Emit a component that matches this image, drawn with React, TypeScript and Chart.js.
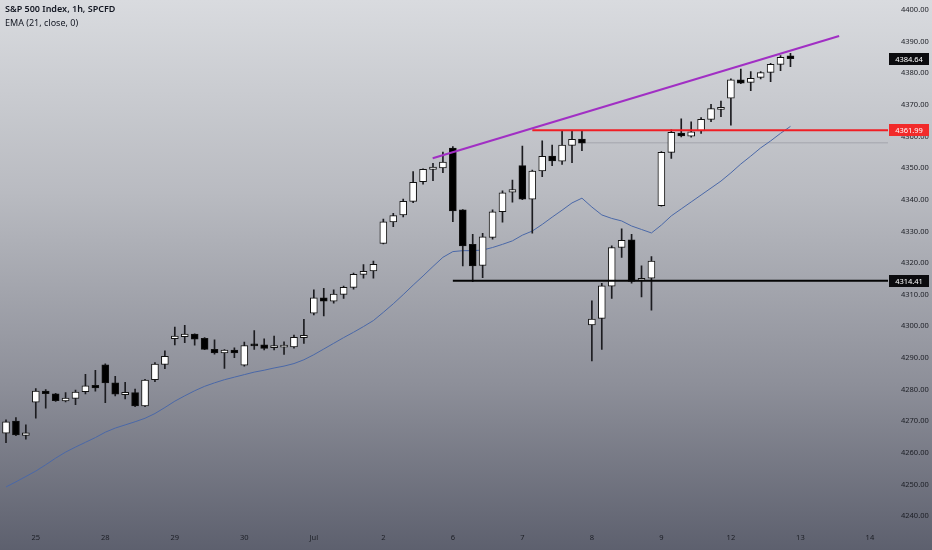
import React, { useEffect, useRef } from "react";
import { Chart, registerables } from "chart.js";

Chart.register(...registerables);

// Hourly bars, index 0 = last three bars of Jun 24, then 7 bars per session
const opens = [
  4266.2, 4270.0, 4265.5,
  4276.0, 4279.5, 4278.6, 4276.4, 4277.2, 4279.3, 4281.3,
  4287.8, 4282.1, 4278.4, 4279.0, 4274.8, 4283.1, 4287.9,
  4296.1, 4296.7, 4297.5, 4296.2, 4292.7, 4291.6, 4292.5,
  4287.7, 4294.2, 4294.1, 4293.2, 4293.4, 4293.5, 4296.4,
  4304.1, 4309.0, 4307.9, 4310.1, 4312.3, 4316.4, 4317.5,
  4326.2, 4333.0, 4335.2, 4339.5, 4345.7, 4349.6, 4350.1,
  4356.3, 4336.8, 4325.9, 4319.2, 4328.1, 4336.2, 4342.4,
  4350.8, 4340.2, 4349.1, 4353.8, 4352.2, 4357.2, 4359.2,
  4300.4, 4302.5, 4312.7, 4324.9, 4327.3, 4314.5, 4315.2,
  4338.1, 4355.0, 4361.1, 4360.1, 4361.8, 4365.4, 4368.6,
  4372.1, 4377.9, 4377.1, 4378.7, 4380.3, 4382.8, 4385.5,
];
const highs = [
  4270.4, 4271.1, 4268.8,
  4280.3, 4280.0, 4278.8, 4279.0, 4279.8, 4284.8, 4286.1,
  4288.1, 4284.2, 4282.3, 4280.1, 4283.2, 4288.5, 4292.2,
  4299.7, 4300.3, 4297.6, 4296.4, 4295.7, 4292.6, 4293.2,
  4295.0, 4298.6, 4296.0, 4296.9, 4295.1, 4297.2, 4302.2,
  4311.5, 4312.0, 4311.5, 4312.7, 4316.8, 4319.5, 4320.6,
  4333.9, 4335.7, 4340.2, 4348.9, 4349.8, 4351.5, 4355.1,
  4356.8, 4336.9, 4329.1, 4329.4, 4336.8, 4342.8, 4346.2,
  4357.0, 4349.4, 4358.6, 4357.3, 4361.9, 4361.9, 4361.9,
  4308.0, 4313.6, 4325.4, 4330.8, 4329.1, 4319.1, 4322.0,
  4355.2, 4362.1, 4365.6, 4364.6, 4366.0, 4370.2, 4371.2,
  4378.2, 4381.3, 4380.5, 4380.5, 4383.1, 4385.6, 4386.3,
];
const lows = [
  4263.2, 4265.4, 4264.3,
  4270.9, 4274.1, 4276.2, 4276.1, 4275.2, 4278.6, 4279.5,
  4275.8, 4278.0, 4277.0, 4274.6, 4274.6, 4282.5, 4286.6,
  4294.1, 4294.8, 4294.0, 4292.6, 4291.2, 4286.7, 4290.1,
  4287.4, 4292.7, 4292.5, 4292.5, 4291.1, 4293.1, 4294.6,
  4303.6, 4303.3, 4307.3, 4308.8, 4311.7, 4315.2, 4315.2,
  4326.0, 4331.5, 4334.6, 4339.1, 4344.9, 4346.0, 4348.6,
  4333.1, 4319.1, 4314.1, 4315.4, 4327.5, 4332.9, 4339.2,
  4340.0, 4329.4, 4347.3, 4350.8, 4351.2, 4351.7, 4355.5,
  4289.0, 4292.7, 4308.8, 4321.8, 4313.6, 4309.3, 4305.1,
  4338.0, 4353.1, 4359.9, 4359.8, 4361.0, 4364.7, 4366.3,
  4363.6, 4376.7, 4374.5, 4378.2, 4377.3, 4380.8, 4382.1,
];
const closes = [
  4269.8, 4265.6, 4266.3,
  4279.5, 4278.7, 4276.5, 4277.3, 4279.2, 4281.2, 4280.5,
  4282.1, 4278.5, 4279.1, 4274.8, 4283.0, 4288.0, 4290.5,
  4296.9, 4297.5, 4295.9, 4292.7, 4291.6, 4292.5, 4291.6,
  4293.9, 4293.8, 4293.0, 4293.9, 4293.8, 4296.5, 4297.1,
  4309.0, 4307.9, 4310.2, 4312.3, 4316.4, 4317.4, 4319.6,
  4333.0, 4335.0, 4339.5, 4345.5, 4349.6, 4350.3, 4351.9,
  4336.5, 4325.4, 4319.1, 4328.3, 4336.2, 4342.2, 4343.2,
  4340.2, 4349.1, 4353.7, 4352.3, 4357.3, 4359.1, 4357.9,
  4302.3, 4312.8, 4324.9, 4327.2, 4314.2, 4314.9, 4320.6,
  4355.0, 4361.3, 4360.2, 4361.5, 4365.4, 4368.8, 4369.2,
  4377.9, 4376.9, 4378.4, 4380.2, 4382.8, 4385.0, 4384.64,
];
const emaValues = [
  4249.2, 4250.8, 4252.5,
  4254.2, 4256.2, 4258.3, 4260.2, 4261.8, 4263.3, 4264.8,
  4266.5, 4267.8, 4268.8, 4269.8, 4270.9, 4272.4, 4274.3,
  4276.3, 4278.0, 4279.6, 4281.0, 4282.1, 4283.1, 4283.9,
  4284.7, 4285.5, 4286.1, 4286.8, 4287.4, 4288.2, 4289.4,
  4291.0, 4292.8, 4294.6, 4296.4, 4298.1, 4299.9, 4301.8,
  4304.4, 4307.1, 4310.0, 4313.0, 4315.9, 4318.9, 4321.8,
  4323.6, 4323.9, 4323.9, 4324.1, 4324.9, 4325.9, 4327.0,
  4328.8, 4330.1, 4332.2, 4334.5, 4336.7, 4339.0, 4340.5,
  4337.7, 4335.2, 4334.1, 4333.3, 4331.7, 4330.6, 4329.5,
  4332.0, 4334.9, 4337.1, 4339.3, 4341.5, 4343.7, 4345.9,
  4348.5, 4351.3, 4353.8, 4356.4, 4358.6, 4361.0, 4363.2,
];

// Day-start tick positions (bar index) and their labels
const dayTickIndex = [3, 10, 17, 24, 31, 38, 45, 52, 59, 66, 73, 80, 87];
const dayTickLabels = ["25", "28", "29", "30", "Jul", "2", "6", "7", "8", "9", "12", "13", "14"];
const priceTicks = [4240, 4250, 4260, 4270, 4280, 4290, 4300, 4310, 4320, 4330, 4340, 4350, 4360, 4370, 4380, 4390, 4400];

// Drawings
const trendStart = { x: 42.97, y: 4353.1 };
const trendEnd = { x: 83.9, y: 4391.8 };
const resistanceLevel = 4361.99;
const resistanceStart = 53;
const supportLevel = 4314.41;
const supportStart = 45;
const faintLevel = 4358.0;
const faintStart = 58.1;
const lastPrice = 4384.64;
const rayEnd = 120;

// Target view: bar 0 centred at 6px, 9.93px per bar; 4400 at 10px, 3.1625px per point
const X0_PX = 6;
const BAR_PX = 9.93;
const P_REF = 4400;
const P_REF_PX = 10;
const PT_PX = 3.1625;

export default function App() {
  const canvasRef = useRef<HTMLCanvasElement | null>(null);

  useEffect(() => {
    const canvas = canvasRef.current;
    if (!canvas) return;
    const idx = closes.map((_, i) => i);

    const priceLabelPlugin = {
      id: "priceLabels",
      afterDraw(chart: any) {
        const ctx = chart.ctx;
        const ys = chart.scales.y;
        const labels = [
          { v: lastPrice, bg: "#0b0b0e" },
          { v: resistanceLevel, bg: "#f22a2a" },
          { v: supportLevel, bg: "#0b0b0e" },
        ];
        const left = chart.chartArea.right + 1;
        ctx.save();
        ctx.font = '7.5px "Noto Sans", sans-serif';
        ctx.textAlign = "center";
        ctx.textBaseline = "middle";
        for (const l of labels) {
          const y = Math.round(ys.getPixelForValue(l.v));
          ctx.fillStyle = l.bg;
          ctx.fillRect(left, y - 6, 40, 12);
          ctx.fillStyle = "#ffffff";
          ctx.fillText(l.v.toFixed(2), left + 20, y + 0.5);
        }
        ctx.restore();
      },
    };

    const chart = new Chart(canvas, {
      type: "bar",
      data: {
        datasets: [
          {
            type: "line",
            label: "trend",
            data: [trendStart, trendEnd],
            borderColor: "#a12fc4",
            borderWidth: 2,
            pointRadius: 0,
            order: 0,
          } as any,
          {
            type: "line",
            label: "resistance",
            data: [
              { x: resistanceStart, y: resistanceLevel },
              { x: rayEnd, y: resistanceLevel },
            ],
            borderColor: "#f01e24",
            borderWidth: 2,
            pointRadius: 0,
            order: 0,
          } as any,
          {
            type: "line",
            label: "support",
            data: [
              { x: supportStart, y: supportLevel },
              { x: rayEnd, y: supportLevel },
            ],
            borderColor: "#050505",
            borderWidth: 2,
            pointRadius: 0,
            order: 0,
          } as any,
          {
            type: "line",
            label: "faint level",
            data: [
              { x: faintStart, y: faintLevel },
              { x: rayEnd, y: faintLevel },
            ],
            borderColor: "rgba(110,112,122,0.35)",
            borderWidth: 1,
            pointRadius: 0,
            order: 5,
          } as any,
          {
            type: "line",
            label: "EMA (21, close, 0)",
            data: idx.map((i) => ({ x: i, y: emaValues[i] })),
            borderColor: "#4a68a8",
            borderWidth: 1,
            pointRadius: 0,
            tension: 0,
            order: 4,
          } as any,
          {
            type: "bar",
            label: "body",
            data: idx.map((i) => ({ x: i, y: [opens[i], closes[i]] })),
            backgroundColor: idx.map((i) => (closes[i] >= opens[i] ? "#ffffff" : "#000000")),
            borderColor: "#111111",
            borderWidth: 1,
            borderSkipped: false,
            barThickness: 7,
            minBarLength: 2,
            grouped: false,
            order: 2,
          } as any,
          {
            type: "bar",
            label: "wick",
            data: idx.map((i) => ({ x: i, y: [lows[i], highs[i]] })),
            backgroundColor: "#1c1c20",
            borderWidth: 0,
            barThickness: 1,
            grouped: false,
            order: 3,
          } as any,
        ],
      },
      options: {
        animation: false,
        responsive: false,
        maintainAspectRatio: false,
        layout: { padding: 0, autoPadding: false },
        plugins: {
          legend: { display: false },
          tooltip: { enabled: false },
          title: { display: false },
        },
        scales: {
          x: {
            type: "linear",
            offset: false,
            min: -0.6,
            max: 88.8,
            position: "bottom",
            grid: { display: false, drawTicks: false },
            border: { display: false },
            afterBuildTicks: (axis: any) => {
              axis.ticks = dayTickIndex.map((v) => ({ value: v }));
            },
            afterFit: (axis: any) => {
              axis.height = 22;
            },
            ticks: {
              autoSkip: false,
              maxRotation: 0,
              minRotation: 0,
              padding: 5,
              color: "#1b1d24",
              font: { family: "Noto Sans", size: 7.5 },
              callback: (v: any) => {
                const k = dayTickIndex.indexOf(Number(v));
                return k >= 0 ? dayTickLabels[k] : "";
              },
            },
          },
          y: {
            type: "linear",
            position: "right",
            min: 4236.2,
            max: 4403.2,
            grid: { display: false, drawTicks: false },
            border: { display: false },
            afterBuildTicks: (axis: any) => {
              axis.ticks = priceTicks.map((v) => ({ value: v }));
            },
            afterFit: (axis: any) => {
              axis.width = 44;
            },
            ticks: {
              autoSkip: false,
              padding: 13,
              color: "#1b1d24",
              font: { family: "Noto Sans", size: 7.5 },
              callback: (v: any) => Number(v).toFixed(2),
            },
          },
        },
      },
      plugins: [priceLabelPlugin],
    } as any);

    // Fit the scale ranges to the actual chart area so the view matches the target framing
    const fitView = () => {
      const a = chart.chartArea;
      const xs: any = chart.options.scales!.x;
      const ys: any = chart.options.scales!.y;
      xs.min = (a.left - X0_PX) / BAR_PX;
      xs.max = (a.right - X0_PX) / BAR_PX;
      ys.max = P_REF + (P_REF_PX - a.top) / PT_PX;
      ys.min = P_REF - (a.bottom - P_REF_PX) / PT_PX;
      chart.update();
    };
    fitView();
    fitView();

    return () => chart.destroy();
  }, []);

  return (
    <div
      style={{
        position: "fixed",
        left: 0,
        top: 0,
        width: 932,
        height: 550,
        overflow: "hidden",
        background: "linear-gradient(to bottom, #d9dbdf 0%, #b9bbc1 35%, #8d8f99 70%, #5d606e 100%)",
      }}
    >
      <canvas ref={canvasRef} width={932} height={550} style={{ position: "absolute", left: 0, top: 0 }} />
      <div
        style={{
          position: "absolute",
          left: 5,
          top: 2,
          fontFamily: '"Noto Sans", sans-serif',
          fontSize: 9,
          lineHeight: "14px",
          color: "#131722",
        }}
      >
        <div style={{ fontWeight: 600 }}>S&amp;P 500 Index, 1h, SPCFD</div>
        <div>EMA (21, close, 0)</div>
      </div>
    </div>
  );
}
